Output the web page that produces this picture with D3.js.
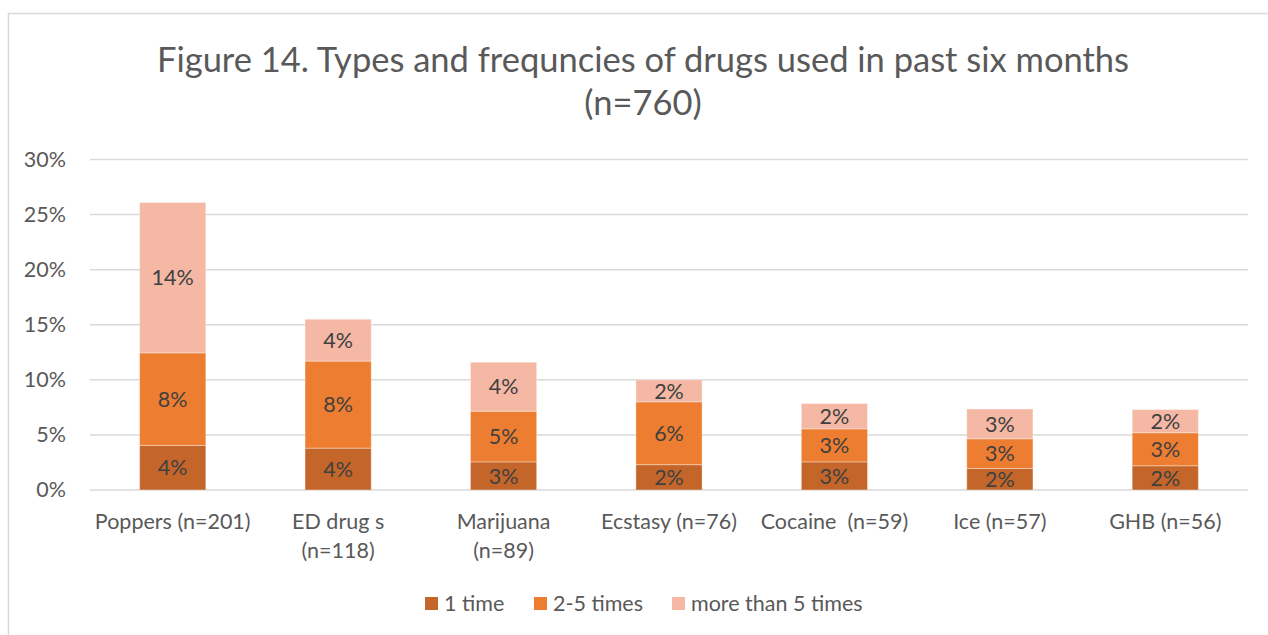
<!DOCTYPE html>
<html>
<head>
<meta charset="utf-8">
<script src="https://cdn.jsdelivr.net/npm/d3@7"></script>
<style>
  body { margin: 0; background: #fff; }
  svg { display: block; font-family: Lato, "Open Sans", sans-serif; }
  text { white-space: pre; }
</style>
</head>
<body>
<svg id="chart" width="1268" height="635"></svg>
<script>
// Datos (en %)
const categories = ["Poppers (n=201)", "ED drug s\n(n=118)", "Marijuana\n(n=89)", "Ecstasy (n=76)", "Cocaine  (n=59)", "Ice (n=57)", "GHB (n=56)"];
const seriesNames = ["1 time", "2-5 times", "more than 5 times"];
const oneTime = [4.05, 3.8, 2.55, 2.3, 2.55, 1.95, 2.2];
const twoToFive = [8.4, 7.9, 4.6, 5.7, 3.0, 2.7, 3.0];
const moreThanFive = [13.65, 3.8, 4.45, 2.0, 2.3, 2.7, 2.1];
const yTicks = [0, 5, 10, 15, 20, 25, 30];
const colors = ["#C4662A", "#ED7D31", "#F4B8A4"];

const svg = d3.select("#chart");
const fs = 21.5;

// Marco del gráfico
svg.append("rect")
  .attr("x", 8.5).attr("y", 13.5)
  .attr("width", 1300).attr("height", 700)
  .attr("fill", "none")
  .attr("stroke", "#D9D9D9")
  .attr("stroke-width", 1.5);

// Título
const title = svg.append("text")
  .attr("text-anchor", "middle")
  .attr("fill", "#595959")
  .attr("font-size", 34.5);
title.append("tspan").attr("x", 643).attr("y", 72)
  .text("Figure 14. Types and frequncies of drugs used in past six months");
title.append("tspan").attr("x", 643).attr("y", 115).text("(n=760)");

// Escalas
const x = d3.scaleBand().domain(categories).range([90, 1248]).paddingInner(0.6).paddingOuter(0.3);
const y = d3.scaleLinear().domain([0, 30]).range([490, 159.5]);

// Rejilla y eje Y
svg.append("g")
  .selectAll("line")
  .data(yTicks)
  .join("line")
    .attr("x1", 90).attr("x2", 1248)
    .attr("y1", d => y(d)).attr("y2", d => y(d))
    .attr("stroke", "#D9D9D9")
    .attr("stroke-width", 1.5);

const yAxis = svg.append("g")
  .attr("transform", "translate(66,0)")
  .call(d3.axisLeft(y).tickValues(yTicks).tickFormat(d => d + "%").tickSize(0).tickPadding(0));
yAxis.select(".domain").remove();
yAxis.selectAll("text")
  .attr("font-size", fs)
  .attr("font-family", "Lato, 'Open Sans', sans-serif")
  .attr("fill", "#595959");

// Apilado
const rows = categories.map((c, i) => ({ cat: c, s0: oneTime[i], s1: twoToFive[i], s2: moreThanFive[i] }));
const stack = d3.stack().keys(["s0", "s1", "s2"])(rows);

const layers = svg.append("g")
  .selectAll("g")
  .data(stack)
  .join("g")
    .attr("fill", (d, i) => colors[i]);

layers.selectAll("rect")
  .data(d => d)
  .join("rect")
    .attr("x", d => x(d.data.cat))
    .attr("width", x.bandwidth())
    .attr("y", d => y(d[1]))
    .attr("height", d => y(d[0]) - y(d[1]))
    .attr("stroke", "#fff")
    .attr("stroke-opacity", 0.35)
    .attr("stroke-width", 1);

// Etiquetas de datos
layers.selectAll("text")
  .data(d => d)
  .join("text")
    .attr("x", d => x(d.data.cat) + x.bandwidth() / 2)
    .attr("y", d => (y(d[0]) + y(d[1])) / 2)
    .attr("dy", "0.36em")
    .attr("text-anchor", "middle")
    .attr("font-size", fs)
    .attr("fill", "#404040")
    .text(d => Math.round(d[1] - d[0]) + "%");

// Etiquetas de categoría
const catLabels = svg.append("g")
  .selectAll("text")
  .data(categories)
  .join("text")
    .attr("text-anchor", "middle")
    .attr("font-size", fs)
    .attr("fill", "#595959");
catLabels.selectAll("tspan")
  .data(d => d.split("\n").map(t => ({ t, cat: d })))
  .join("tspan")
    .attr("x", d => x(d.cat) + x.bandwidth() / 2)
    .attr("y", (d, i) => 529 + i * 29)
    .text(d => d.t);

// Leyenda
const legendX = [425, 534, 672];
const legend = svg.append("g")
  .selectAll("g")
  .data(seriesNames)
  .join("g")
    .attr("transform", (d, i) => `translate(${legendX[i]},597)`);
legend.append("rect")
  .attr("width", 13).attr("height", 13)
  .attr("fill", (d, i) => colors[i]);
legend.append("text")
  .attr("x", 19).attr("y", 14)
  .attr("font-size", fs)
  .attr("fill", "#595959")
  .text(d => d);
</script>
</body>
</html>
